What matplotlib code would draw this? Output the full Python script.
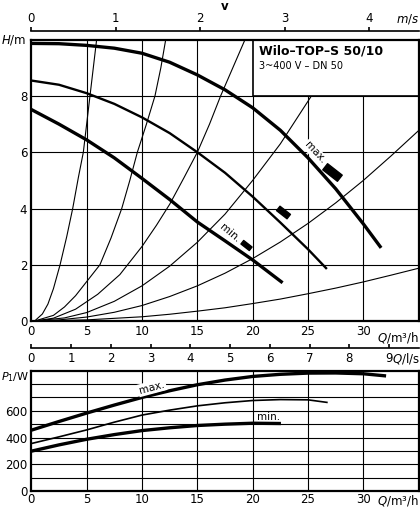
import numpy as np
import matplotlib
matplotlib.use("Agg")
import matplotlib.pyplot as plt
from matplotlib.patches import Rectangle
from matplotlib.path import Path

plt.rcParams['font.family'] = ['Liberation Sans Narrow', 'DejaVu Sans']

# Pump curves H(Q), Q in m3/h, H in m
q_max = [0, 2.5, 5, 7.5, 10, 12.5, 15, 17.5, 20, 22.5, 25, 27.5, 30, 31.6]
h_max = [9.87, 9.86, 9.80, 9.70, 9.52, 9.20, 8.75, 8.22, 7.58, 6.78, 5.80, 4.70, 3.45, 2.60]
q_mid = [0, 2.5, 5, 7.5, 10, 12.5, 15, 17.5, 20, 22.5, 25, 26.7]
h_mid = [8.55, 8.40, 8.10, 7.72, 7.24, 6.68, 6.00, 5.27, 4.42, 3.50, 2.55, 1.85]
q_min = [0, 2.5, 5, 7.5, 10, 12.5, 15, 17.5, 20, 22.7]
h_min = [7.52, 7.00, 6.44, 5.80, 5.07, 4.32, 3.52, 2.85, 2.17, 1.36]

# System curves (thin lines from origin)
sys_curves = [
    ([0.3, 1.0, 1.5, 2.0, 2.6, 3.2, 3.74, 4.25, 4.7, 5.0, 5.3, 5.6, 5.9],
     [0, 0.25, 0.6, 1.15, 2.0, 3.0, 4.0, 5.1, 6.0, 7.0, 8.0, 9.0, 10.0]),
    ([0.3, 2, 3, 4, 5, 6.2, 7.2, 8.17, 8.9, 9.58, 10.4, 11.17, 11.7, 12.14],
     [0, 0.2, 0.5, 0.9, 1.4, 2.0, 2.95, 4.0, 5.0, 6.0, 7.0, 8.0, 9.0, 10.0]),
    ([0.3, 2, 4, 6, 8, 10, 11.3, 12.5, 13.8, 15, 16.1, 17.1, 18.2, 19.3],
     [0, 0.1, 0.42, 0.95, 1.65, 2.65, 3.4, 4.15, 5.1, 6.0, 7.0, 8.0, 9.0, 10.0]),
    ([0.3, 3, 5, 7.5, 10, 12.5, 15, 17.5, 20, 22.5, 25.3],
     [0, 0.11, 0.3, 0.7, 1.25, 1.95, 2.8, 3.8, 5.0, 6.3, 8.0]),
    ([0.3, 2.5, 5, 7.5, 10, 12.5, 15, 17.5, 20, 22.5, 25, 27.5, 30, 32.5, 34.93],
     [0, 0.04, 0.14, 0.31, 0.55, 0.87, 1.25, 1.7, 2.22, 2.81, 3.47, 4.2, 5.0, 5.87, 6.75]),
    ([0.3, 5, 10, 12.5, 15, 17.5, 20, 22.5, 25, 27.5, 30, 32.5, 34.93],
     [0, 0.04, 0.15, 0.24, 0.35, 0.47, 0.62, 0.78, 0.97, 1.17, 1.39, 1.63, 1.87]),
]

# Operating point markers
mark_q = [27.2, 22.7, 19.4]
mark_h = [5.29, 3.86, 2.70]
mark_size = [14, 10, 8]

# Power curves P1(Q), W
p_q_max = [0, 2.5, 5, 7.5, 10, 12.5, 15, 17.5, 20, 22.5, 25, 27.5, 30, 31.9]
p_max = [455, 520, 583, 643, 700, 750, 795, 830, 857, 873, 882, 883, 877, 862]
p_q_mid = [0, 2.5, 5, 7.5, 10, 12.5, 15, 17.5, 20, 22.5, 25, 26.7]
p_mid = [355, 405, 457, 515, 568, 605, 637, 660, 677, 684, 682, 663]
p_q_min = [0, 2.5, 5, 7.5, 10, 12.5, 15, 17.5, 20, 22.4]
p_min = [298, 345, 387, 422, 452, 473, 490, 500, 507, 505]

q_ticks = [0, 5, 10, 15, 20, 25, 30]
h_ticks = [0, 2, 4, 6, 8]
p_ticks = [0, 200, 400, 600]
v_ticks = [0, 1, 2, 3, 4]
ls_ticks = [0, 1, 2, 3, 4, 5, 6, 7, 8, 9]

Q_PER_MS = 7.633   # m3/h per m/s
Q_PER_LS = 3.591   # m3/h per l/s
QMAX = 35

W, H = 420, 508
fig = plt.figure(figsize=(W / 100, H / 100), dpi=100)


def box(x0, y0, x1, y1):
    return [x0 / W, 1 - y1 / H, (x1 - x0) / W, (y1 - y0) / H]


x_left = 31.3
x_right = x_left + QMAX * 11.07
FS = 8.5

# ---- upper chart: H over Q
ax = fig.add_axes(box(x_left, 39.75, x_right, 321))
ax.set_xlim(0, QMAX)
ax.set_ylim(0, 10)
for q in q_ticks[1:]:
    ax.axvline(q, color='black', lw=0.8, zorder=1)
for h in h_ticks[1:]:
    ax.axhline(h, color='black', lw=0.8, zorder=1)

for sq, sh in sys_curves:
    ax.plot(sq, sh, color='black', lw=0.8, zorder=2)

ax.plot(q_max, h_max, color='black', lw=2.4, zorder=3, solid_capstyle='butt')
ax.plot(q_mid, h_mid, color='black', lw=1.7, zorder=3, solid_capstyle='butt')
ax.plot(q_min, h_min, color='black', lw=2.4, zorder=3, solid_capstyle='butt')

ang = np.deg2rad(-38)
rect = np.array([[-1, -0.42], [1, -0.42], [1, 0.42], [-1, 0.42], [-1, -0.42]])
rot = rect @ np.array([[np.cos(ang), np.sin(ang)], [-np.sin(ang), np.cos(ang)]])
mpath = Path(rot, closed=True)
for mq, mh, ms in zip(mark_q, mark_h, mark_size):
    ax.plot([mq], [mh], marker=mpath, markersize=ms, color='black', zorder=4, ls='none')

ax.text(25.6, 6.0, 'max.', rotation=-47, fontsize=7.5, ha='center', va='center',
        zorder=4, bbox=dict(facecolor='white', edgecolor='none', pad=0.5))
ax.text(17.95, 3.12, 'min.', rotation=-40, fontsize=7.5, ha='center', va='center',
        zorder=4, bbox=dict(facecolor='white', edgecolor='none', pad=0.5))

ax.add_patch(Rectangle((20, 8), 15, 2, facecolor='white', edgecolor='black', lw=1.2, zorder=5))
ax.text(20.6, 9.6, 'Wilo–TOP–S 50/10', fontsize=9, fontweight='bold', va='center', zorder=6)
ax.text(20.6, 9.07, '3~400 V – DN 50', fontsize=7, va='center', zorder=6)

ax.set_xticks(q_ticks)
ax.set_yticks(h_ticks)
ax.tick_params(length=0, labelsize=FS, pad=3)
for s in ax.spines.values():
    s.set_linewidth(1.6)
    s.set_zorder(7)
ax.text(-0.012, 1.0, r'$\it{H}$/m', transform=ax.transAxes, ha='right', va='center', fontsize=FS)
ax.text(1.0, -0.032, r'$\it{Q}$/m³/h', transform=ax.transAxes, ha='right', va='top', fontsize=FS)

# ---- velocity axis
axv = fig.add_axes(box(x_left, 30.7, x_right, 30.8))
axv.set_xlim(0, QMAX / Q_PER_MS)
axv.set_yticks([])
for k in ['left', 'right', 'bottom']:
    axv.spines[k].set_visible(False)
axv.spines['top'].set_linewidth(1.2)
axv.xaxis.tick_top()
axv.set_xticks(v_ticks)
axv.tick_params(axis='x', direction='out', length=3, width=1.2, labelsize=FS, pad=1)
axv.patch.set_alpha(0)
fig.text(225 / W, 1 - 7 / H, 'v', fontsize=FS, fontweight='bold', ha='center', va='center')
fig.text(419 / W, 1 - 19 / H, r'$\it{m/s}$', fontsize=FS, ha='right', va='center')

# ---- l/s axis
axl = fig.add_axes(box(x_left, 348.2, x_right, 348.3))
axl.set_xlim(0, QMAX / Q_PER_LS)
axl.set_yticks([])
for k in ['left', 'right', 'top']:
    axl.spines[k].set_visible(False)
axl.spines['bottom'].set_linewidth(1.2)
axl.set_xticks(ls_ticks)
axl.tick_params(axis='x', direction='in', length=3, width=1.2, labelsize=FS, pad=3)
axl.patch.set_alpha(0)
fig.text(420 / W, 1 - 359 / H, r'$\it{Q}$/l/s', fontsize=FS, ha='right', va='center')

# ---- lower chart: P1 over Q
axp = fig.add_axes(box(x_left, 370.7, x_right, 491))
axp.set_xlim(0, QMAX)
axp.set_ylim(0, 900)
for q in q_ticks[1:]:
    axp.axvline(q, color='black', lw=0.8, zorder=1)
for p in range(100, 900, 100):
    axp.axhline(p, color='black', lw=0.8, zorder=1)

axp.plot(p_q_max, p_max, color='black', lw=2.4, zorder=3)
axp.plot(p_q_mid, p_mid, color='black', lw=1.2, zorder=3)
axp.plot(p_q_min, p_min, color='black', lw=2.4, zorder=3)

axp.text(10.9, 775, 'max.', rotation=15, fontsize=7.5, ha='center', va='center', zorder=4,
         bbox=dict(facecolor='white', edgecolor='none', pad=1))
axp.text(21.4, 557, 'min.', fontsize=7.5, ha='center', va='center', zorder=4)

axp.set_xticks(q_ticks)
axp.set_yticks(p_ticks)
axp.tick_params(axis='y', length=0, labelsize=FS, pad=3)
axp.tick_params(axis='x', length=0, labelsize=FS, pad=1.5)
for s in axp.spines.values():
    s.set_linewidth(1.6)
    s.set_zorder(7)
fig.text(1 / W, 1 - 377 / H, r'$\it{P}_1$/W', ha='left', va='center', fontsize=8)
fig.text(419 / W, 1 - 501 / H, r'$\it{Q}$/m³/h', ha='right', va='center', fontsize=FS)

fig.savefig('out.png', dpi=100)
